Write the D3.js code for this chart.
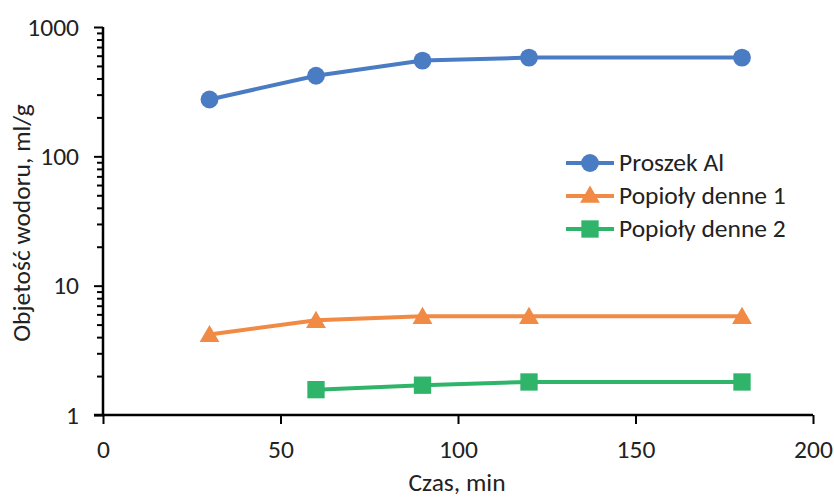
<!DOCTYPE html>
<html>
<head>
<meta charset="utf-8">
<script src="https://cdn.jsdelivr.net/npm/d3@7"></script>
<style>
  body { margin: 0; background: #fff; }
  svg text { font-family: Calibri, Carlito, Lato, sans-serif; fill: #222; }
</style>
</head>
<body>
<svg id="chart" width="834" height="499"></svg>
<script>
const timeMin = [30, 60, 90, 120, 180];
const proszekAl = [275, 420, 550, 580, 580];
const popioly1 = [4.2, 5.4, 5.8, 5.8, 5.8];
const popioly2Time = [60, 90, 120, 180];
const popioly2 = [1.57, 1.7, 1.8, 1.8];
const xTicks = [0, 50, 100, 150, 200];
const yTicks = [1, 10, 100, 1000];

const series = [
  { name: 'Proszek Al', color: '#4a7cc4', shape: d3.symbolCircle, size: 250, values: timeMin.map((t, i) => ({ t, v: proszekAl[i] })) },
  { name: 'Popioły denne 1', color: '#f08a45', shape: d3.symbolTriangle, size: 170, values: timeMin.map((t, i) => ({ t, v: popioly1[i] })) },
  { name: 'Popioły denne 2', color: '#2fb46a', shape: d3.symbolSquare, size: 300, values: popioly2Time.map((t, i) => ({ t, v: popioly2[i] })) }
];

const FONT = 25.5;
const MARGIN = { left: 103, top: 27, right: 21, bottom: 84 };
const W = 834 - MARGIN.left - MARGIN.right;
const H = 499 - MARGIN.top - MARGIN.bottom;

const svg = d3.select('#chart');
const chart = svg.append('g').attr('transform', `translate(${MARGIN.left},${MARGIN.top})`);

const xScale = d3.scaleLinear().domain([0, 200]).range([0, W]);
const yScale = d3.scaleLog().domain([1, 1000]).range([H, 0]);

// minor log ticks on y
const minor = [];
[1, 10, 100].forEach(d => { for (let k = 2; k <= 9; k++) minor.push(d * k); });
chart.append('g')
  .call(d3.axisLeft(yScale).tickValues(minor).tickSize(6).tickFormat(''))
  .call(g => g.select('.domain').remove())
  .call(g => g.selectAll('line').attr('stroke', '#000').attr('stroke-width', 2));

chart.append('g')
  .attr('class', 'y-axis')
  .call(d3.axisLeft(yScale).tickValues(yTicks).tickSize(9).tickPadding(15).tickFormat(d3.format('d')))
  .call(g => g.select('.domain').attr('stroke', '#000').attr('stroke-width', 2.5).attr('d', `M0,${H + 1}V0`))
  .call(g => g.selectAll('line').attr('stroke', '#000').attr('stroke-width', 2))
  .call(g => g.selectAll('text').attr('font-size', FONT).attr('fill', '#222'));

chart.append('g')
  .attr('class', 'x-axis')
  .attr('transform', `translate(0,${H})`)
  .call(d3.axisBottom(xScale).tickValues(xTicks).tickSize(9).tickPadding(16))
  .call(g => g.select('.domain').attr('stroke', '#000').attr('stroke-width', 2.5).attr('d', `M-9,0H${W}`))
  .call(g => g.selectAll('line').attr('stroke', '#000').attr('stroke-width', 2))
  .call(g => g.selectAll('text').attr('font-size', FONT).attr('fill', '#222'));

const line = d3.line().x(d => xScale(d.t)).y(d => yScale(d.v));

series.forEach(s => {
  chart.append('path')
    .attr('d', line(s.values))
    .attr('fill', 'none')
    .attr('stroke', s.color)
    .attr('stroke-width', 4);
  chart.selectAll(null)
    .data(s.values)
    .enter()
    .append('path')
    .attr('transform', d => `translate(${xScale(d.t)},${yScale(d.v) + (s.shape === d3.symbolTriangle ? 2 : 0)})`)
    .attr('d', d3.symbol().type(s.shape).size(s.size))
    .attr('fill', s.color);
});

// legend
const legend = svg.append('g').attr('transform', 'translate(566,163)');
series.forEach((s, i) => {
  const row = legend.append('g').attr('transform', `translate(0,${i * 33})`);
  row.append('line').attr('x1', 0).attr('x2', 48).attr('stroke', s.color).attr('stroke-width', 4);
  row.append('path')
    .attr('transform', `translate(24,${s.shape === d3.symbolTriangle ? 1 : 0})`)
    .attr('d', d3.symbol().type(s.shape).size(s.size))
    .attr('fill', s.color);
  row.append('text').attr('x', 53).attr('y', 8).attr('font-size', FONT).text(s.name);
});

// axis titles
svg.append('text')
  .attr('transform', `translate(30,${MARGIN.top + H / 2 + 2}) rotate(-90)`)
  .attr('text-anchor', 'middle')
  .attr('font-size', FONT)
  .text('Objetość wodoru, ml/g');

svg.append('text')
  .attr('x', 457)
  .attr('y', 491)
  .attr('text-anchor', 'middle')
  .attr('font-size', FONT)
  .text('Czas, min');
</script>
</body>
</html>
